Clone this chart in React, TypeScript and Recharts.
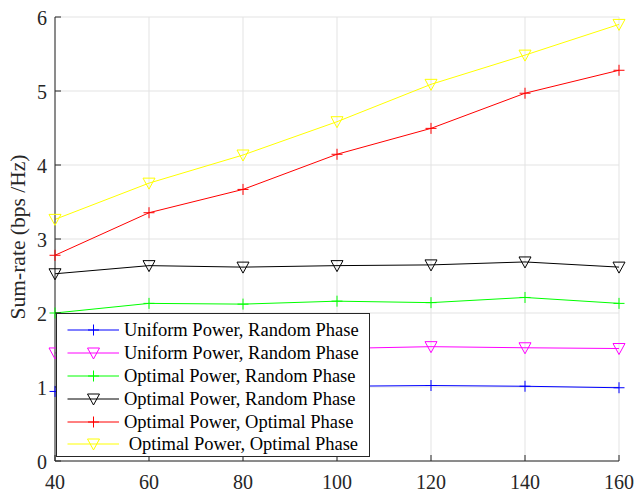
import { LineChart, Line, XAxis, YAxis, CartesianGrid, Legend } from "recharts";

// number of users (x) and sum-rate values (bps/Hz) per scheme
const users = [40, 60, 80, 100, 120, 140, 160];
const uniformRandomPlus = [0.94, 0.98, 1.0, 1.01, 1.02, 1.01, 0.99];
const uniformRandomTri = [1.46, 1.49, 1.5, 1.52, 1.545, 1.53, 1.52];
const optimalRandomPlus = [2.0, 2.13, 2.12, 2.16, 2.14, 2.21, 2.13];
const optimalRandomTri = [2.53, 2.64, 2.62, 2.64, 2.65, 2.69, 2.62];
const optimalOptimalPlus = [2.78, 3.355, 3.67, 4.145, 4.495, 4.97, 5.28];
const optimalOptimalTri = [3.265, 3.755, 4.135, 4.585, 5.09, 5.485, 5.9];

const xTicks = [40, 60, 80, 100, 120, 140, 160];
const yTicks = [0, 1, 2, 3, 4, 5, 6];

type Marker = "plus" | "tri";

const series: { key: string; name: string; color: string; marker: Marker; values: number[] }[] = [
  { key: "s1", name: "Uniform Power, Random Phase", color: "#0000ff", marker: "plus", values: uniformRandomPlus },
  { key: "s2", name: "Uniform Power, Random Phase", color: "#ff00ff", marker: "tri", values: uniformRandomTri },
  { key: "s3", name: "Optimal Power, Random Phase", color: "#00ff00", marker: "plus", values: optimalRandomPlus },
  { key: "s4", name: "Optimal Power, Random Phase", color: "#000000", marker: "tri", values: optimalRandomTri },
  { key: "s5", name: "Optimal Power, Optimal Phase", color: "#ff0000", marker: "plus", values: optimalOptimalPlus },
  { key: "s6", name: " Optimal Power, Optimal Phase", color: "#ffff00", marker: "tri", values: optimalOptimalTri },
];

const data = users.map((u, i) => {
  const row: Record<string, number> = { x: u };
  series.forEach((s) => (row[s.key] = s.values[i]));
  return row;
});

const FONT = '"Liberation Serif", "Times New Roman", serif';
const AXIS = "#262626";
const TICK = 6;

function drawMarker(type: Marker, cx: number, cy: number, color: string) {
  if (type === "plus") {
    return (
      <g>
        <line x1={cx - 5.5} x2={cx + 5.5} y1={cy} y2={cy} stroke={color} strokeWidth={1} />
        <line x1={cx} x2={cx} y1={cy - 5.5} y2={cy + 5.5} stroke={color} strokeWidth={1} />
      </g>
    );
  }
  return (
    <polygon
      points={`${cx - 6},${cy - 5} ${cx + 6},${cy - 5} ${cx},${cy + 6}`}
      fill="none"
      stroke={color}
      strokeWidth={1}
    />
  );
}

const BottomTick = (props: any) => {
  const { x, y, payload } = props;
  return (
    <g>
      <line x1={x} x2={x} y1={y} y2={y - TICK} stroke={AXIS} />
      <text x={x} y={y + 28} textAnchor="middle" fontFamily={FONT} fontSize={20} fill={AXIS}>
        {payload.value}
      </text>
    </g>
  );
};

const TopTick = (props: any) => {
  const { x, y } = props;
  return <line x1={x} x2={x} y1={y} y2={y + TICK} stroke={AXIS} />;
};

const LeftTick = (props: any) => {
  const { x, y, payload } = props;
  return (
    <g>
      <line x1={x} x2={x + TICK} y1={y} y2={y} stroke={AXIS} />
      <text x={x - 8} y={y + 7.5} textAnchor="end" fontFamily={FONT} fontSize={20} fill={AXIS}>
        {payload.value}
      </text>
    </g>
  );
};

const RightTick = (props: any) => {
  const { x, y } = props;
  return <line x1={x} x2={x - TICK} y1={y} y2={y} stroke={AXIS} />;
};

const LegendBox = () => (
  <div
    style={{
      border: `1px solid ${AXIS}`,
      background: "#fff",
      boxSizing: "border-box",
      width: 314,
      height: 144,
      paddingTop: 5,
      fontFamily: FONT,
      fontSize: 18.5,
      color: "#000",
    }}
  >
    {series.map((s) => (
      <div key={s.key} style={{ display: "flex", alignItems: "center", height: 22.8 }}>
        <svg width={67} height={22} style={{ flex: "none" }}>
          <line x1={10.5} x2={62} y1={11} y2={11} stroke={s.color} strokeWidth={1} />
          {drawMarker(s.marker, 36.5, 11, s.color)}
        </svg>
        <span style={{ whiteSpace: "pre", lineHeight: "22px" }}>{s.name}</span>
      </div>
    ))}
  </div>
);

export default function App() {
  return (
    <div style={{ position: "absolute", left: 0, top: 0, background: "#fff" }}>
      <LineChart width={637} height={492} data={data} margin={{ top: 17, right: 18, left: 0, bottom: 0 }}>
        <CartesianGrid stroke="#e3e3e3" />
        <XAxis
          type="number"
          dataKey="x"
          domain={[40, 160]}
          ticks={xTicks}
          height={31}
          tickSize={0}
          tickMargin={0}
          tick={<BottomTick />}
          axisLine={{ stroke: AXIS }}
          tickLine={false}
          interval={0}
        />
        <XAxis
          xAxisId="top"
          orientation="top"
          type="number"
          dataKey="x"
          domain={[40, 160]}
          ticks={xTicks}
          height={0}
          tickSize={0}
          tickMargin={0}
          tick={<TopTick />}
          axisLine={{ stroke: AXIS }}
          tickLine={false}
          interval={0}
        />
        <YAxis
          type="number"
          domain={[0, 6]}
          ticks={yTicks}
          width={55}
          tickSize={0}
          tickMargin={0}
          tick={<LeftTick />}
          axisLine={{ stroke: AXIS }}
          tickLine={false}
          interval={0}
          label={(p: any) => {
            const vb = p.viewBox;
            const cx = 18;
            const cy = vb.y + vb.height / 2 - 2;
            return (
              <text
                x={cx}
                y={cy}
                transform={`rotate(-90, ${cx}, ${cy})`}
                textAnchor="middle"
                dominantBaseline="central"
                fontFamily={FONT}
                fontSize={21.5}
                fill={AXIS}
              >
                Sum-rate (bps /Hz)
              </text>
            );
          }}
        />
        <YAxis
          yAxisId="right"
          orientation="right"
          type="number"
          domain={[0, 6]}
          ticks={yTicks}
          width={0}
          tickSize={0}
          tickMargin={0}
          tick={<RightTick />}
          axisLine={{ stroke: AXIS }}
          tickLine={false}
          interval={0}
        />
        {series.map((s) => (
          <Line
            key={s.key}
            type="linear"
            dataKey={s.key}
            name={s.name}
            stroke={s.color}
            strokeWidth={1}
            isAnimationActive={false}
            dot={(p: any) => <g key={`${s.key}-${p.index}`}>{drawMarker(s.marker, p.cx, p.cy, s.color)}</g>}
            activeDot={false}
          />
        ))}
        <Legend
          layout="vertical"
          align="center"
          verticalAlign="middle"
          wrapperStyle={{ left: 56, top: 313, width: 314, height: 144 }}
          content={() => <LegendBox />}
        />
      </LineChart>
    </div>
  );
}
